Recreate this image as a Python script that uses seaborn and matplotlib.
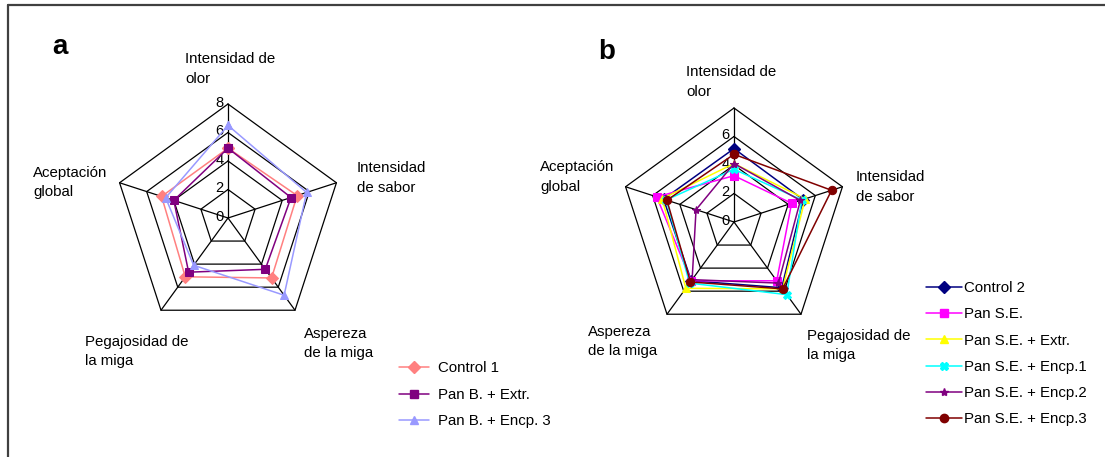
import numpy as np
import pandas as pd
import matplotlib.pyplot as plt
from matplotlib.lines import Line2D
import seaborn as sns

# panel a
cats_a = ["Intensidad de\nolor", "Intensidad\nde sabor", "Aspereza\nde la miga",
          "Pegajosidad de\nla miga", "Aceptación\nglobal"]
series_a = ["Control 1", "Pan B. + Extr.", "Pan B. + Encp. 3"]
control_1 = [4.9, 5.1, 5.2, 5.1, 4.9]
pan_b_extr = [4.9, 4.65, 4.45, 4.7, 4.0]
pan_b_encp3 = [6.5, 5.8, 6.7, 4.1, 4.6]

# panel b
cats_b = ["Intensidad de\nolor", "Intensidad\nde sabor", "Pegajosidad de\nla miga",
          "Aspereza\nde la miga", "Aceptación\nglobal"]
series_b = ["Control 2", "Pan S.E.", "Pan S.E. + Extr.", "Pan S.E. + Encp.1",
            "Pan S.E. + Encp.2", "Pan S.E. + Encp.3"]
control_2 = [5.15, 5.1, 5.7, 5.1, 5.2]
pan_se = [3.25, 4.25, 5.1, 5.1, 5.7]
pan_se_extr = [4.1, 5.25, 5.8, 5.75, 5.3]
pan_se_encp1 = [3.7, 5.0, 6.3, 5.3, 5.0]
pan_se_encp2 = [4.1, 4.9, 5.3, 5.0, 2.8]
pan_se_encp3 = [4.75, 7.2, 5.8, 5.2, 4.95]

ticks = [0, 2, 4, 6, 8]

W, H = 1105, 457


def fx(x):
    return x / W


def fy(y):
    return 1 - y / H


def long_table(names, values):
    rows = []
    n = len(values[0])
    for name, vals in zip(names, values):
        for i, v in enumerate(list(vals) + [vals[0]]):
            rows.append({"serie": name, "theta": 2 * np.pi * i / n, "r": v})
    return pd.DataFrame(rows)


def pentagon_grid(ax, n, tick_labels):
    th = np.linspace(0, 2 * np.pi, n + 1)
    for t in ticks[1:]:
        ax.plot(th, [t] * (n + 1), color="black", lw=0.9, zorder=1, clip_on=False)
    for a in th[:-1]:
        ax.plot([a, a], [0, ticks[-1]], color="black", lw=0.9, zorder=1, clip_on=False)
    for t in tick_labels:
        ax.annotate(str(t), xy=(0, t), xytext=(-3, 1), textcoords="offset points",
                    ha="right", va="center", fontsize=10.5, color="black")


def radar(fig, rect, df, names, palette, markers, cats, tick_labels):
    ax = fig.add_axes(rect, projection="polar")
    ax.set_theta_zero_location("N")
    ax.set_theta_direction(-1)
    ax.grid(False)
    ax.spines["polar"].set_visible(False)
    ax.patch.set_alpha(0)
    pentagon_grid(ax, len(cats), tick_labels)
    sns.lineplot(data=df, x="theta", y="r", hue="serie", style="serie",
                 hue_order=names, style_order=names, palette=palette,
                 markers=markers, dashes=False, sort=False, lw=1.1,
                 markersize=6, ax=ax, legend=False, zorder=3)
    for ln in ax.lines[-len(names):]:
        ln.set_markeredgecolor(ln.get_color())
        ln.set_clip_on(False)
    ax.set_ylim(0, ticks[-1])
    ax.set_xticks([])
    ax.set_yticks([])
    ax.set_xlabel("")
    ax.set_ylabel("")
    handles = [Line2D([], [], color=palette[s], marker=markers[s], markersize=6,
                      markeredgecolor=palette[s], lw=1.1) for s in names]
    return ax, handles


sns.set_style("white")
plt.rcParams["font.family"] = ["Liberation Sans", "DejaVu Sans"]
plt.rcParams["text.color"] = "black"

fig = plt.figure(figsize=(W / 100, H / 100), dpi=100)

df_a = long_table(series_a, [control_1, pan_b_extr, pan_b_encp3])
pal_a = {"Control 1": "#FF8080", "Pan B. + Extr.": "#800080", "Pan B. + Encp. 3": "#9999FF"}
mk_a = {"Control 1": "D", "Pan B. + Extr.": "s", "Pan B. + Encp. 3": "^"}
ax_a, h_a = radar(fig, [fx(114), fy(332), 228 / W, 228 / H], df_a, series_a,
                  pal_a, mk_a, cats_a, [0, 2, 4, 6, 8])

df_b = long_table(series_b, [control_2, pan_se, pan_se_extr, pan_se_encp1,
                             pan_se_encp2, pan_se_encp3])
pal_b = {"Control 2": "#000080", "Pan S.E.": "#FF00FF", "Pan S.E. + Extr.": "#FFFF00",
         "Pan S.E. + Encp.1": "#00FFFF", "Pan S.E. + Encp.2": "#800080",
         "Pan S.E. + Encp.3": "#800000"}
mk_b = {"Control 2": "D", "Pan S.E.": "s", "Pan S.E. + Extr.": "^",
        "Pan S.E. + Encp.1": "X", "Pan S.E. + Encp.2": "*", "Pan S.E. + Encp.3": "o"}
ax_b, h_b = radar(fig, [fx(620), fy(336), 228 / W, 228 / H], df_b, series_b,
                  pal_b, mk_b, cats_b, [0, 2, 4, 6])

# category labels
lab_a = [(185, 69), (357, 178), (304, 343.5), (85, 351.5), (33, 182.5)]
for txt, (x, y) in zip(cats_a, lab_a):
    fig.text(fx(x), fy(y), txt, ha="left", va="center", fontsize=10.8, linespacing=1.5)
lab_b = [(686, 82), (856, 187), (807, 345.5), (588, 341.5), (540, 177)]
for txt, (x, y) in zip(cats_b, lab_b):
    fig.text(fx(x), fy(y), txt, ha="left", va="center", fontsize=10.8, linespacing=1.5)

fig.text(fx(60), fy(47), "a", ha="center", va="center", fontsize=20, fontweight="bold")
fig.text(fx(607), fy(52), "b", ha="center", va="center", fontsize=20, fontweight="bold")

fig.legend(h_a, series_a, loc="upper left", bbox_to_anchor=(fx(399), fy(361)),
           frameon=False, fontsize=10.8, handlelength=2.0, handletextpad=0.6,
           labelspacing=0.85, borderpad=0, borderaxespad=0)
fig.legend(h_b, series_b, loc="upper left", bbox_to_anchor=(fx(926), fy(281)),
           frameon=False, fontsize=10.8, handlelength=2.4, handletextpad=0.1,
           labelspacing=0.82, borderpad=0, borderaxespad=0)

# frame at the top and left edges
fig.add_artist(Line2D([fx(8), 1], [fy(5), fy(5)], color="#404040", lw=1.6))
fig.add_artist(Line2D([fx(8), fx(8)], [fy(5), 0], color="#404040", lw=1.6))

fig.savefig("out.png", dpi=100)
